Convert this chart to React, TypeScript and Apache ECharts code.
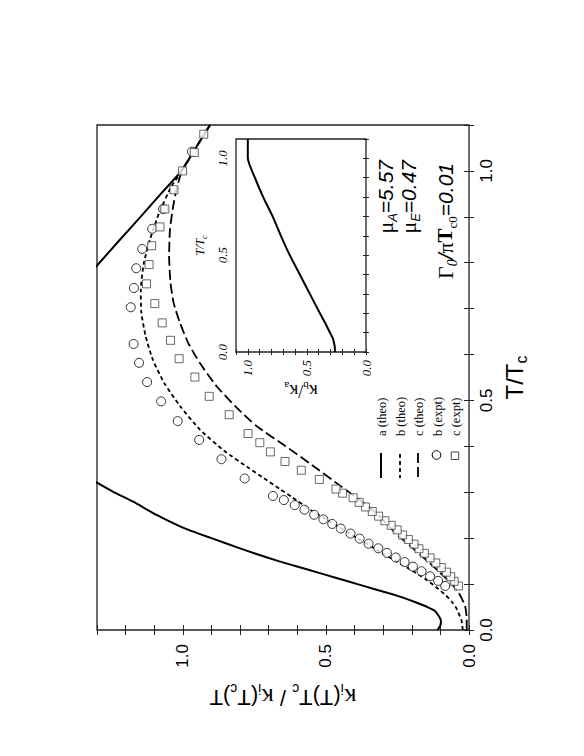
import React, { useEffect, useRef } from 'react';
import * as echarts from 'echarts';

// ---- data (T/Tc and kappa ratio) ----
const aLowT = [0, 0.01, 0.02, 0.03, 0.042, 0.05, 0.06, 0.07, 0.08, 0.09, 0.1, 0.11, 0.12, 0.13, 0.14, 0.15, 0.165, 0.18, 0.2, 0.223, 0.25, 0.28, 0.3, 0.321, 0.34];
const aLowK = [0.11, 0.1, 0.098, 0.105, 0.12, 0.145, 0.185, 0.228, 0.28, 0.335, 0.39, 0.445, 0.5, 0.555, 0.61, 0.665, 0.74, 0.81, 0.9, 1.0, 1.09, 1.175, 1.24, 1.3, 1.35];
const aHighT = [0.76, 0.794, 0.85, 0.9, 0.95, 1.0, 1.05, 1.1];
const aHighK = [1.35, 1.3, 1.22, 1.148, 1.077, 1.005, 0.955, 0.905];

const bT = [0, 0.02, 0.046, 0.06, 0.075, 0.09, 0.11, 0.13, 0.15, 0.17, 0.2, 0.23, 0.26, 0.29, 0.307, 0.33, 0.354, 0.39, 0.437, 0.488, 0.538, 0.589, 0.64, 0.691, 0.741, 0.8, 0.85, 0.908, 0.966, 1.0, 1.05, 1.1];
const bK = [0.022, 0.026, 0.043, 0.058, 0.08, 0.108, 0.15, 0.2, 0.255, 0.31, 0.39, 0.47, 0.55, 0.62, 0.661, 0.715, 0.772, 0.855, 0.941, 1.01, 1.065, 1.105, 1.13, 1.145, 1.147, 1.136, 1.115, 1.083, 1.04, 1.003, 0.955, 0.905];

const cT = [0, 0.024, 0.053, 0.082, 0.1, 0.125, 0.15, 0.183, 0.21, 0.252, 0.28, 0.314, 0.36, 0.4, 0.444, 0.488, 0.531, 0.582, 0.625, 0.669, 0.712, 0.756, 0.814, 0.872, 0.922, 0.96, 1.0, 1.05, 1.1];
const cK = [0.008, 0.008, 0.014, 0.037, 0.06, 0.101, 0.145, 0.205, 0.255, 0.32, 0.375, 0.45, 0.55, 0.64, 0.742, 0.818, 0.882, 0.941, 0.981, 1.01, 1.032, 1.043, 1.048, 1.045, 1.034, 1.022, 1.003, 0.955, 0.905];

const bExpT = [0.096, 0.107, 0.117, 0.128, 0.138, 0.148, 0.158, 0.168, 0.178, 0.188, 0.199, 0.21, 0.221, 0.231, 0.241, 0.251, 0.262, 0.272, 0.283, 0.292, 0.33, 0.372, 0.414, 0.455, 0.498, 0.54, 0.582, 0.623, 0.703, 0.745, 0.788, 0.83, 0.874, 0.917, 1.042];
const bExpK = [0.083, 0.108, 0.136, 0.166, 0.196, 0.225, 0.256, 0.287, 0.317, 0.351, 0.382, 0.414, 0.448, 0.478, 0.509, 0.541, 0.575, 0.609, 0.647, 0.685, 0.784, 0.865, 0.943, 1.018, 1.076, 1.125, 1.153, 1.172, 1.182, 1.171, 1.163, 1.142, 1.107, 1.069, 0.968];

const cExpT = [0.096, 0.106, 0.116, 0.126, 0.136, 0.146, 0.157, 0.167, 0.177, 0.187, 0.197, 0.207, 0.218, 0.228, 0.238, 0.248, 0.258, 0.268, 0.278, 0.288, 0.298, 0.307, 0.328, 0.348, 0.367, 0.388, 0.408, 0.428, 0.469, 0.509, 0.551, 0.591, 0.631, 0.669, 0.711, 0.754, 0.796, 0.837, 0.878, 0.917, 0.959, 1.0, 1.04, 1.08];
const cExpK = [0.037, 0.052, 0.064, 0.079, 0.097, 0.116, 0.136, 0.156, 0.175, 0.192, 0.212, 0.232, 0.251, 0.272, 0.294, 0.316, 0.338, 0.362, 0.384, 0.405, 0.442, 0.465, 0.523, 0.586, 0.643, 0.694, 0.731, 0.772, 0.838, 0.908, 0.958, 1.013, 1.043, 1.072, 1.098, 1.127, 1.118, 1.109, 1.08, 1.063, 1.031, 1.001, 0.96, 0.927];

const insetT = [0, 0.03, 0.05, 0.07, 0.1, 0.15, 0.2, 0.3, 0.4, 0.5, 0.6, 0.7, 0.8, 0.9, 1.0, 1.1];
const insetK = [0.262, 0.265, 0.272, 0.28, 0.305, 0.345, 0.39, 0.475, 0.56, 0.645, 0.72, 0.79, 0.87, 0.94, 1.0, 1.0];

const legendLabels = ['a (theo)', 'b (theo)', 'c (theo)', 'b (expt)', 'c (expt)'];

const SANS = "'Liberation Sans', Arial, Helvetica, sans-serif";
const SERIF = "'Liberation Serif', 'Times New Roman', serif";

const zip = (k: number[], t: number[]) => k.map((v, i) => [v, t[i]]);
const fmtHalf = (v: number) => {
  const r = Math.round(v * 10);
  return r % 5 === 0 ? (r / 10).toFixed(1) : '';
};

const tickStyle = (len: number) => ({
  show: true,
  inside: true,
  length: len,
  lineStyle: { color: '#222', width: 1 },
});

function buildOption() {
  const mainK = {
    gridIndex: 0, type: 'value', min: 0, max: 1.3, interval: 0.1, inverse: true, position: 'bottom',
    axisLine: { show: false }, splitLine: { show: false }, axisTick: tickStyle(5),
    axisLabel: { rotate: 90, margin: 14, fontSize: 17, fontFamily: SANS, color: '#000', formatter: fmtHalf },
    name: '{k|κ}{s|i}{t|(T)T}{s|c}{t| / }{k|κ}{s|i}{t|(T}{s|c}{t|)T}',
    nameLocation: 'middle', nameGap: 52, nameRotate: 180,
    nameTextStyle: {
      rich: {
        k: { fontFamily: SERIF, fontSize: 25, lineHeight: 30, verticalAlign: 'middle', color: '#000' },
        t: { fontFamily: SANS, fontSize: 22, lineHeight: 30, verticalAlign: 'middle', color: '#000' },
        s: { fontFamily: SANS, fontSize: 14, lineHeight: 14, verticalAlign: 'bottom', color: '#000' },
      },
    },
  };
  const mainKTop = {
    gridIndex: 0, type: 'value', min: 0, max: 1.3, interval: 0.1, inverse: true, position: 'top',
    axisLine: { show: false }, splitLine: { show: false }, axisTick: tickStyle(5), axisLabel: { show: false },
  };
  const mainT = {
    gridIndex: 0, type: 'value', min: 0, max: 1.1, interval: 0.1, position: 'right',
    axisLine: { show: false }, splitLine: { show: false }, axisTick: tickStyle(5),
    axisLabel: { rotate: 90, margin: 9, fontSize: 17, fontFamily: SANS, color: '#000', formatter: fmtHalf },
    name: '{t|T/T}{s|c}', nameLocation: 'middle', nameGap: 30, nameRotate: 90,
    nameTextStyle: {
      rich: {
        t: { fontFamily: SANS, fontSize: 24, lineHeight: 30, verticalAlign: 'middle', color: '#000' },
        s: { fontFamily: SANS, fontSize: 16, lineHeight: 16, verticalAlign: 'bottom', color: '#000' },
      },
    },
  };
  const mainTLeft = {
    gridIndex: 0, type: 'value', min: 0, max: 1.1, interval: 0.1, position: 'left',
    axisLine: { show: false }, splitLine: { show: false }, axisTick: tickStyle(5), axisLabel: { show: false },
  };
  const insetKAxis = {
    gridIndex: 1, type: 'value', min: 0, max: 1.1, interval: 0.1, inverse: true, position: 'bottom',
    axisLine: { show: false }, splitLine: { show: false }, axisTick: tickStyle(3),
    axisLabel: { rotate: 90, margin: 8, fontSize: 13, fontFamily: SERIF, fontStyle: 'italic', color: '#000', formatter: fmtHalf },
    name: '{k|κ}{s|b}{k|/κ}{s|a}', nameLocation: 'middle', nameGap: 26, nameRotate: 180,
    nameTextStyle: {
      rich: {
        k: { fontFamily: SERIF, fontSize: 18, lineHeight: 22, verticalAlign: 'middle', color: '#000' },
        s: { fontFamily: SERIF, fontSize: 11, lineHeight: 11, verticalAlign: 'bottom', color: '#000' },
      },
    },
  };
  const insetKTop = {
    gridIndex: 1, type: 'value', min: 0, max: 1.1, interval: 0.1, inverse: true, position: 'top',
    axisLine: { show: false }, splitLine: { show: false }, axisTick: tickStyle(3), axisLabel: { show: false },
  };
  const insetTAxis = {
    gridIndex: 1, type: 'value', min: 0, max: 1.1, interval: 0.1, position: 'left',
    axisLine: { show: false }, splitLine: { show: false }, axisTick: tickStyle(3),
    axisLabel: { rotate: 90, margin: 7, fontSize: 13, fontFamily: SERIF, fontStyle: 'italic', color: '#000', formatter: fmtHalf },
    name: '{t|T/T}{s|c}', nameLocation: 'middle', nameGap: 28, nameRotate: 90,
    nameTextStyle: {
      rich: {
        t: { fontFamily: SERIF, fontStyle: 'italic', fontSize: 12, lineHeight: 16, verticalAlign: 'middle', color: '#000' },
        s: { fontFamily: SERIF, fontStyle: 'italic', fontSize: 8, lineHeight: 8, verticalAlign: 'bottom', color: '#000' },
      },
    },
  };
  const insetTRight = {
    gridIndex: 1, type: 'value', min: 0, max: 1.1, interval: 0.1, position: 'right',
    axisLine: { show: false }, splitLine: { show: false }, axisTick: tickStyle(3), axisLabel: { show: false },
  };

  const lineBase = { type: 'line', xAxisIndex: 0, yAxisIndex: 0, symbol: 'none', showSymbol: false, smooth: 0.2, clip: true, z: 2 };

  const series: any[] = [
    { ...lineBase, name: 'a1', data: zip(aLowK, aLowT), lineStyle: { color: '#000', width: 2 } },
    { ...lineBase, name: 'a2', data: zip(aHighK, aHighT), lineStyle: { color: '#000', width: 2 } },
    { ...lineBase, name: 'b', data: zip(bK, bT), lineStyle: { color: '#000', width: 1.8, type: [4, 3] } },
    { ...lineBase, name: 'c', data: zip(cK, cT), lineStyle: { color: '#000', width: 1.8, type: [10, 4] } },
    {
      type: 'scatter', name: 'bexp', xAxisIndex: 0, yAxisIndex: 0, data: zip(bExpK, bExpT), z: 3,
      symbol: 'circle', symbolSize: 9, itemStyle: { color: '#fff', borderColor: '#000', borderWidth: 1 },
    },
    {
      type: 'scatter', name: 'cexp', xAxisIndex: 0, yAxisIndex: 0, data: zip(cExpK, cExpT), z: 3,
      symbol: 'rect', symbolSize: 8, itemStyle: { color: '#fff', borderColor: '#444', borderWidth: 1 },
    },
    {
      type: 'line', name: 'inset', xAxisIndex: 2, yAxisIndex: 2, data: zip(insetK, insetT),
      symbol: 'none', showSymbol: false, smooth: 0.2, lineStyle: { color: '#000', width: 2 },
    },
  ];

  const legX = [381, 400, 418, 436.5, 455];
  const legendGraphics: any[] = [
    { type: 'line', shape: { x1: legX[0], y1: 453, x2: legX[0], y2: 478 }, style: { stroke: '#000', lineWidth: 2 } },
    { type: 'line', shape: { x1: legX[1], y1: 454, x2: legX[1], y2: 478 }, style: { stroke: '#000', lineWidth: 1.8, lineDash: [4, 3] } },
    { type: 'line', shape: { x1: legX[2], y1: 453, x2: legX[2], y2: 478 }, style: { stroke: '#000', lineWidth: 1.8, lineDash: [10, 4] } },
    { type: 'circle', shape: { cx: legX[3], cy: 455, r: 4.3 }, style: { fill: '#fff', stroke: '#000', lineWidth: 1 } },
    { type: 'rect', shape: { x: legX[4] - 3.8, y: 452, width: 7.5, height: 7.5 }, style: { fill: '#fff', stroke: '#444', lineWidth: 1 } },
    ...legendLabels.map((txt, i) => ({
      type: 'text', x: legX[i] + 1, y: 436, rotation: Math.PI / 2,
      style: { text: txt, fontFamily: SERIF, fontSize: 12.5, fill: '#000', align: 'left', verticalAlign: 'middle', textAlign: 'left', textVerticalAlign: 'middle' },
    })),
  ];

  const annRich = {
    m: { fontFamily: SERIF, fontSize: 22, lineHeight: 28, verticalAlign: 'middle', fill: '#000', color: '#000' },
    g: { fontFamily: SERIF, fontSize: 22, lineHeight: 28, verticalAlign: 'middle', fill: '#000', color: '#000' },
    b: { fontFamily: SERIF, fontWeight: 'bold', fontSize: 21, lineHeight: 28, verticalAlign: 'middle', fill: '#000', color: '#000' },
    n: { fontFamily: SANS, fontStyle: 'italic', fontSize: 21, lineHeight: 28, verticalAlign: 'middle', fill: '#000', color: '#000' },
    s: { fontFamily: SANS, fontStyle: 'italic', fontSize: 13, lineHeight: 13, verticalAlign: 'bottom', fill: '#000', color: '#000' },
    z: { fontFamily: SERIF, fontStyle: 'italic', fontSize: 14, lineHeight: 14, verticalAlign: 'bottom', fill: '#000', color: '#000' },
    zc: { fontFamily: SERIF, fontSize: 13, lineHeight: 13, verticalAlign: 'bottom', fill: '#000', color: '#000' },
  };
  const ann = (txt: string, x: number, y: number) => ({
    type: 'text', x, y, rotation: Math.PI / 2,
    style: { text: txt, rich: annRich, fill: '#000', align: 'right', verticalAlign: 'middle', textAlign: 'right', textVerticalAlign: 'middle' },
  });
  const annotations = [
    ann('{m|μ}{s|A}{n|=5.57}', 385, 160),
    ann('{m|μ}{s|E}{n|=0.47}', 408, 160),
    ann('{g|Γ}{z|0}{n|/}{m|π}{b|T}{zc|c0}{n|=0.01}', 445, 163),
  ];

  return {
    animation: false,
    backgroundColor: '#fff',
    grid: [
      { left: 97, top: 125, width: 372, height: 505, show: true, borderColor: '#222', borderWidth: 1.3, backgroundColor: 'transparent', containLabel: false, outerBoundsMode: 'none' },
      { left: 236, top: 139, width: 130, height: 213, show: true, borderColor: '#222', borderWidth: 1.3, backgroundColor: '#fff', containLabel: false, outerBoundsMode: 'none' },
    ],
    xAxis: [mainK, mainKTop, insetKAxis, insetKTop],
    yAxis: [mainT, mainTLeft, insetTAxis, insetTRight],
    series,
    graphic: { elements: [...legendGraphics, ...annotations] },
  };
}

export default function App() {
  const ref = useRef<HTMLDivElement>(null);
  useEffect(() => {
    if (!ref.current) return;
    const chart = echarts.init(ref.current, null, { renderer: 'svg' });
    chart.setOption(buildOption() as any);
    return () => chart.dispose();
  }, []);
  return (
    <div
      ref={ref}
      style={{ position: 'absolute', left: 0, top: 0, width: 584, height: 756, background: '#fff' }}
    />
  );
}
